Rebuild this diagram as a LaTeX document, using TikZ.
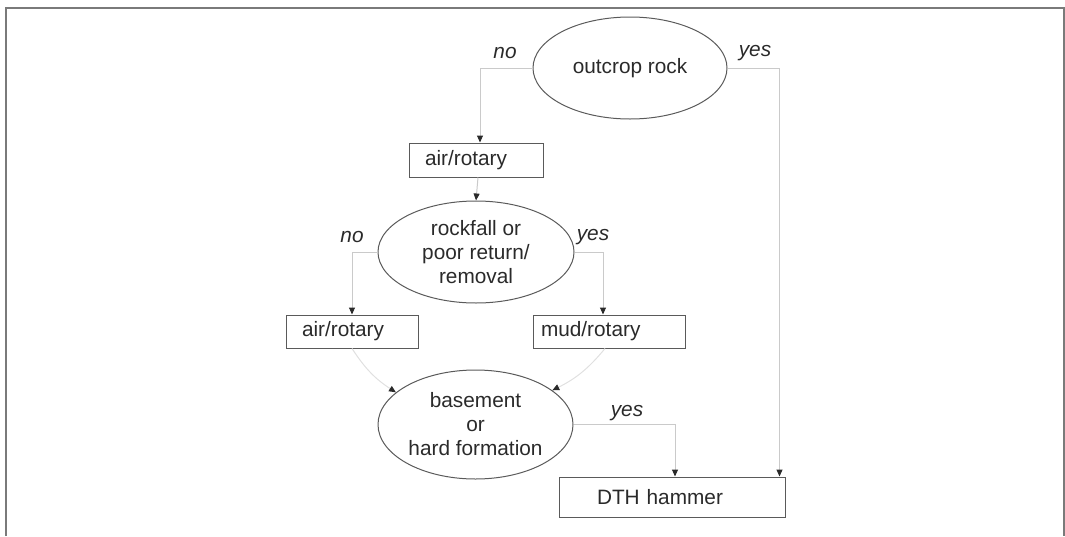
\documentclass[tikz,border=0pt]{standalone}
\usepackage{fontspec}
\setmainfont{Liberation Sans}
\usetikzlibrary{shapes.geometric,arrows.meta}
\definecolor{txt}{HTML}{2A2A2A}
\definecolor{outl}{HTML}{5A5A5A}
\definecolor{conn}{HTML}{CACACA}
\definecolor{conn2}{HTML}{E0E0E0}
\definecolor{frm}{HTML}{7A7A7A}
\begin{document}
\begin{tikzpicture}[x=0.5pt,y=-0.5pt,
  every node/.style={text=txt,font=\fontsize{10.4}{12}\selectfont},
  dec/.style={ellipse,draw=outl,line width=0.5pt,inner sep=0pt,align=center},
  boxn/.style={rectangle,draw=outl,line width=0.5pt,align=left,inner ysep=0pt},
  cn/.style={draw=conn,line width=0.5pt,-{Triangle[width=3pt,length=3.5pt,color=txt]}},
  cnf/.style={cn,draw=conn2},
  lab/.style={font=\fontsize{10.4}{12}\selectfont\itshape}]
\useasboundingbox (0,0) rectangle (1065,536);
\draw[frm,line width=1pt] (5.5,536) -- (5.5,7.5) -- (1064,7.5) -- (1064,536);

\node[dec,minimum width=97pt,minimum height=51pt] (outcrop) at (630,68) {outcrop rock};
\node[boxn,minimum height=17pt,text width=51pt,inner xsep=8pt] (air1) at (476,160) {air/rotary};
\node[dec,minimum width=98pt,minimum height=51pt] (rock) at (476,252) {rockfall or\\poor return/\\removal};
\node[boxn,minimum height=16.5pt,text width=50pt,inner xsep=8pt] (air2) at (352,331.5) {air/rotary};
\node[boxn,minimum height=16.5pt,text width=68pt,inner xsep=4pt] (mud) at (609,331.5) {mud/rotary};
\node[dec,minimum width=97.5pt,minimum height=54.5pt] (base) at (475.5,424.5) {basement\\or\\hard formation};
\node[boxn,minimum height=20pt,text width=75pt,inner xsep=19pt] (dth) at (672,497) {DTH hammer};

\draw[cn] (outcrop.west) -| ([xshift=2pt]air1.north);
\draw[cn] (outcrop.east) -| ([xshift=-3pt]dth.north east);
\draw[cn] ([xshift=1pt]air1.south) -- (rock.north);
\draw[cn] (rock.west) -| (air2.north);
\draw[cn] (rock.east) -| ([xshift=-3pt]mud.north);
\draw[cnf] (air2.south) to[bend right=12] (base.158);
\draw[cnf] ([xshift=-2pt]mud.south) to[bend left=12] (base.24);
\draw[cn] (base.east) -| ([xshift=1.5pt]dth.north);

\node[lab] (l1) at (505,53) {no};
\node[lab] (l2) at (755,53) {yes};
\node[lab] (l3) at (352,237) {no};
\node[lab] (l4) at (593,237) {yes};
\node[lab] (l5) at (627,413) {yes};
\end{tikzpicture}
\end{document}
